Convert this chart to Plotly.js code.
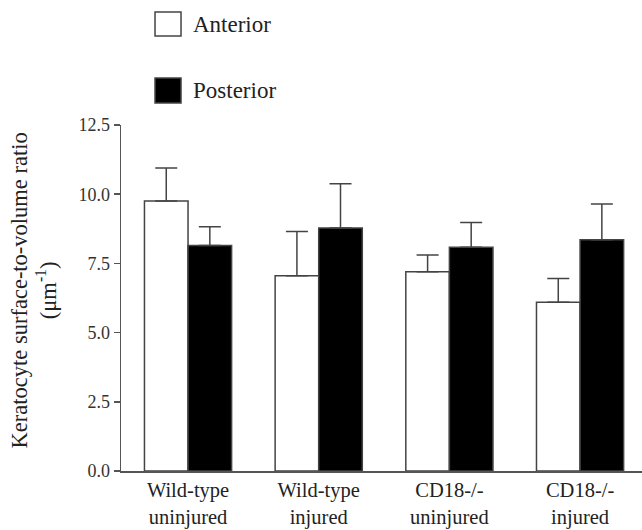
<!DOCTYPE html>
<html>
<head>
<meta charset="utf-8">
<script src="https://cdn.plot.ly/plotly-3.0.1.min.js"></script>
<style>html,body{margin:0;padding:0;background:#fff;}#chart{width:642px;height:530px;}</style>
</head>
<body>
<div id="chart"></div>
<script>
const categories = ["Wild-type<br>uninjured", "Wild-type<br>injured", "CD18-/-<br>uninjured", "CD18-/-<br>injured"];
const seriesNames = ["Anterior", "Posterior"];
const anteriorMean = [9.75, 7.05, 7.2, 6.1];
const anteriorErr = [1.2, 1.6, 0.6, 0.85];
const posteriorMean = [8.15, 8.78, 8.08, 8.35];
const posteriorErr = [0.67, 1.6, 0.9, 1.3];
const yTicks = [0, 2.5, 5, 7.5, 10, 12.5];

const serif = "Liberation Serif";
const edge = "#444";

function barTrace(name, y, err, fill) {
  return {
    type: "bar", name: name, x: categories, y: y,
    marker: {color: fill, line: {color: edge, width: 1.5}},
    error_y: {type: "data", array: err, arrayminus: err.map(() => 0), symmetric: false,
              color: edge, thickness: 1.5, width: 11},
    showlegend: false, hoverinfo: "none"
  };
}

const data = [
  barTrace(seriesNames[0], anteriorMean, anteriorErr, "#ffffff"),
  barTrace(seriesNames[1], posteriorMean, posteriorErr, "#000000")
];

const layout = {
  width: 642, height: 530,
  margin: {l: 121, r: 0, t: 125, b: 59},
  paper_bgcolor: "#fff", plot_bgcolor: "#fff",
  barmode: "group", bargap: 0.333, bargroupgap: 0,
  font: {family: serif, color: "#222", size: 18},
  xaxis: {
    type: "category", range: [-0.513, 3.474],
    showline: true, linecolor: "#555", linewidth: 1.5,
    ticks: "", showgrid: false, zeroline: false,
    tickfont: {family: serif, size: 20.5, color: "#222"}
  },
  yaxis: {
    range: [0, 12.5], tickvals: yTicks, tickformat: ".1f",
    showline: true, linecolor: "#555", linewidth: 1.5,
    ticks: "outside", ticklen: 6, tickwidth: 1.5, tickcolor: "#555",
    showgrid: false, zeroline: false,
    tickfont: {family: serif, size: 18, color: "#333"}
  },
  shapes: [
    {type: "rect", xref: "paper", yref: "paper", x0: 0.0653, x1: 0.1152, y0: 1.2572, y1: 1.3266,
     fillcolor: "#ffffff", line: {color: edge, width: 1.5}},
    {type: "rect", xref: "paper", yref: "paper", x0: 0.0653, x1: 0.1152, y0: 1.0636, y1: 1.1358,
     fillcolor: "#000000", line: {color: edge, width: 1.5}}
  ],
  annotations: [
    {xref: "paper", yref: "paper", x: 0.1344, y: 1.2919, xanchor: "left", yanchor: "middle",
     text: seriesNames[0], showarrow: false, font: {family: serif, size: 23, color: "#222"}},
    {xref: "paper", yref: "paper", x: 0.1344, y: 1.0997, xanchor: "left", yanchor: "middle",
     text: seriesNames[1], showarrow: false, font: {family: serif, size: 23, color: "#222"}},
    {xref: "paper", yref: "paper", x: 0, y: 0.522, xshift: -87, xanchor: "center", yanchor: "middle",
     textangle: -90, showarrow: false,
     text: "Keratocyte surface-to-volume ratio<br>(μm<sup>-1</sup>)",
     font: {family: serif, size: 22.5, color: "#222"}}
  ]
};

Plotly.newPlot("chart", data, layout, {displayModeBar: false, staticPlot: true});
</script>
</body>
</html>
